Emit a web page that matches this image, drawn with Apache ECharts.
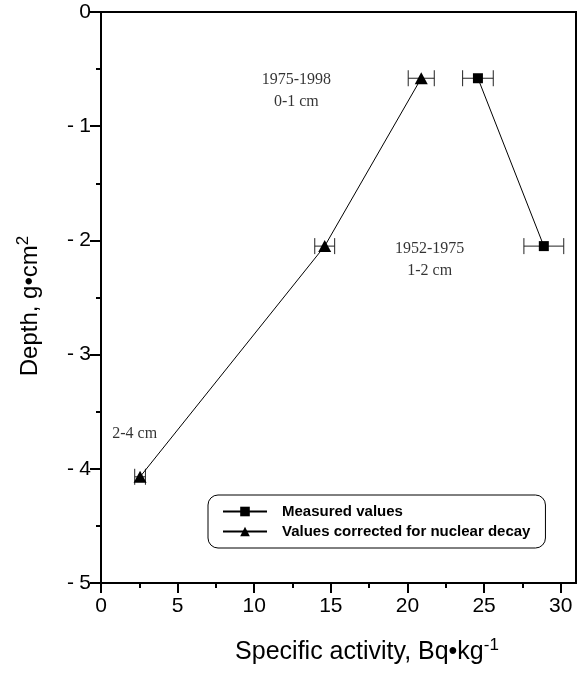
<!DOCTYPE html>
<html lang="en">
<head>
    <meta charset="UTF-8">
    <title>Specific activity vs depth</title>
    <style>
        html, body, #chart {
            width: 100%;
            height: 100%;
            margin: 0;
            padding: 0;
            background: #fff;
        }
    </style>
    <script src="https://cdn.jsdelivr.net/npm/echarts@6/dist/echarts.min.js"></script>
</head>
<body>
    <div id="chart"></div>
    <script>
        // values
        var measuredActivity = [24.6, 28.9];
        var measuredDepth = [-0.58, -2.05];
        var measuredErr = [1.0, 1.3];

        var correctedActivity = [20.9, 14.6, 2.55];
        var correctedDepth = [-0.58, -2.05, -4.07];
        var correctedErr = [0.85, 0.65, 0.35];

        var noteText = ['1975-1998\n0-1 cm', '1952-1975\n1-2 cm', '2-4 cm'];
        var noteX = [12.75, 21.45, 2.2];
        var noteY = [-0.69, -2.17, -3.69];

        var xMajor = [0, 5, 10, 15, 20, 25, 30];
        var xMinor = [2.5, 7.5, 12.5, 17.5, 22.5, 27.5];

        var sans = 'Arial, "Liberation Sans", Helvetica, sans-serif';
        var serif = '"Times New Roman", "Liberation Serif", serif';

        function pairs(xs, ys) {
            return xs.map(function (x, i) { return [x, ys[i]]; });
        }

        function errData(xs, ys, es) {
            return xs.map(function (x, i) { return [x, ys[i], es[i]]; });
        }

        function renderErr(params, api) {
            var x = api.value(0), y = api.value(1), e = api.value(2);
            var a = api.coord([x - e, y]);
            var b = api.coord([x + e, y]);
            var h = 8;
            var st = { stroke: '#222', lineWidth: 1 };
            return {
                type: 'group',
                children: [
                    { type: 'line', shape: { x1: a[0], y1: a[1], x2: b[0], y2: b[1] }, style: st },
                    { type: 'line', shape: { x1: a[0], y1: a[1] - h, x2: a[0], y2: a[1] + h }, style: st },
                    { type: 'line', shape: { x1: b[0], y1: b[1] - h, x2: b[0], y2: b[1] + h }, style: st }
                ]
            };
        }

        // minus sign a little apart from the digit, as in the figure
        function yLabel(v) {
            return v < 0 ? '-\u2005' + Math.abs(v) : String(v);
        }

        var chart = echarts.init(document.getElementById('chart'));

        var gridBox = { left: 101, right: 3, top: 12, bottom: 91, outerBoundsMode: 'none' };

        var option = {
            animation: false,
            backgroundColor: '#fff',
            grid: [
                Object.assign({ show: true, borderColor: '#000', borderWidth: 2 }, gridBox),
                // second grid only carries the minor ticks of x
                Object.assign({ show: false }, gridBox)
            ],
            xAxis: [{
                type: 'value',
                gridIndex: 0,
                min: 0,
                max: 31,
                position: 'bottom',
                splitLine: { show: false },
                axisLine: { show: true, onZero: false, lineStyle: { color: '#000', width: 2 } },
                axisTick: { show: true, length: 10, customValues: xMajor, lineStyle: { color: '#000', width: 2 } },
                axisLabel: { customValues: xMajor, color: '#000', fontSize: 21, fontFamily: sans, margin: 13 }
            }, {
                type: 'value',
                gridIndex: 1,
                min: 0,
                max: 31,
                position: 'bottom',
                splitLine: { show: false },
                axisLine: { show: false, onZero: false },
                axisTick: { show: true, length: 5, customValues: xMinor, lineStyle: { color: '#000', width: 2 } },
                axisLabel: { show: false }
            }],
            yAxis: [{
                type: 'value',
                gridIndex: 0,
                min: -5,
                max: 0,
                interval: 1,
                splitLine: { show: false },
                axisLine: { show: true, onZero: false, lineStyle: { color: '#000', width: 2 } },
                axisTick: { show: true, length: 11, lineStyle: { color: '#000', width: 2 } },
                minorTick: { show: true, splitNumber: 2, length: 5, lineStyle: { color: '#000', width: 2 } },
                axisLabel: { color: '#000', fontSize: 21, fontFamily: sans, margin: 10, formatter: yLabel }
            }, {
                type: 'value',
                gridIndex: 1,
                min: -5,
                max: 0,
                show: false
            }],
            legend: {
                left: 208,
                top: 495,
                orient: 'vertical',
                data: ['Measured values', 'Values corrected for nuclear decay'],
                itemWidth: 44,
                itemHeight: 12,
                itemGap: 5,
                padding: [9, 15, 9, 14],
                borderColor: '#000',
                borderWidth: 1,
                borderRadius: 10,
                textStyle: { color: '#000', fontSize: 15, fontWeight: 'bold', fontFamily: sans, padding: [0, 0, 0, 10] }
            },
            graphic: [{
                type: 'text',
                x: 367,
                y: 652,
                style: {
                    text: 'Specific activity, Bq\u2022kg{s|-1}',
                    fill: '#000',
                    font: '25px ' + sans,
                    textAlign: 'center',
                    textVerticalAlign: 'middle',
                    rich: { s: { fontSize: 17, fontFamily: sans, fill: '#000', padding: [0, 0, 14, 0] } }
                }
            }, {
                type: 'text',
                x: 30,
                y: 306,
                rotation: Math.PI / 2,
                style: {
                    text: 'Depth, g\u2022cm{s|2}',
                    fill: '#000',
                    font: '24px ' + sans,
                    textAlign: 'center',
                    textVerticalAlign: 'middle',
                    rich: { s: { fontSize: 17, fontFamily: sans, fill: '#000', padding: [0, 0, 14, 0] } }
                }
            }],
            series: [{
                name: 'errMeasured',
                type: 'custom',
                renderItem: renderErr,
                data: errData(measuredActivity, measuredDepth, measuredErr),
                silent: true,
                z: 1
            }, {
                name: 'errCorrected',
                type: 'custom',
                renderItem: renderErr,
                data: errData(correctedActivity, correctedDepth, correctedErr),
                silent: true,
                z: 1
            }, {
                name: 'Measured values',
                type: 'line',
                data: pairs(measuredActivity, measuredDepth),
                symbol: 'rect',
                symbolSize: 10,
                itemStyle: { color: '#000' },
                lineStyle: { color: '#000', width: 1 },
                z: 3
            }, {
                name: 'Values corrected for nuclear decay',
                type: 'line',
                data: pairs(correctedActivity, correctedDepth),
                symbol: 'triangle',
                symbolSize: [13, 12],
                itemStyle: { color: '#000' },
                lineStyle: { color: '#000', width: 1 },
                z: 3
            }, {
                name: 'notes',
                type: 'scatter',
                symbolSize: 0,
                silent: true,
                data: noteText.map(function (t, i) { return { name: t, value: [noteX[i], noteY[i]] }; }),
                label: {
                    show: true,
                    position: 'inside',
                    formatter: '{b}',
                    color: '#000',
                    fontSize: 16,
                    lineHeight: 22,
                    fontFamily: serif
                }
            }]
        };

        chart.setOption(option);
    </script>
</body>
</html>
